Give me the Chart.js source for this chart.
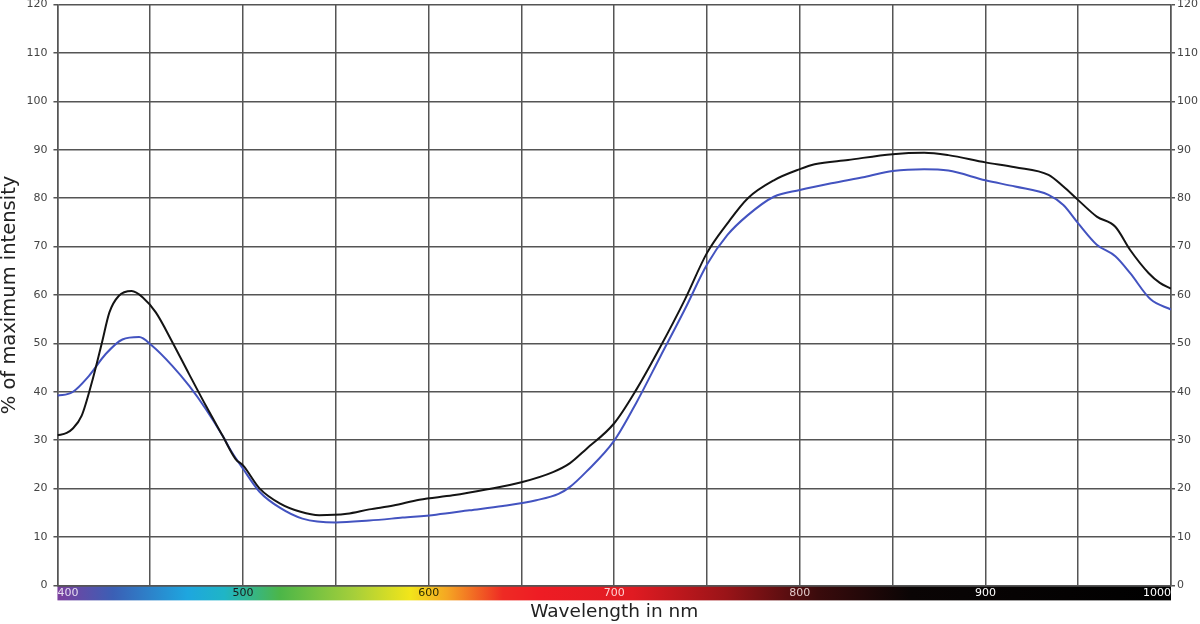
<!DOCTYPE html>
<html>
<head>
<meta charset="utf-8">
<script src="https://cdn.jsdelivr.net/npm/chart.js@4/dist/chart.umd.min.js"></script>
<style>
  html, body { margin: 0; padding: 0; background: #fff; overflow: hidden; }
  #wrap { width: 1200px; height: 630px; position: relative; top: -8px; }
</style>
</head>
<body>
<div id="wrap"><canvas id="chart"></canvas></div>
<script>
// wavelength (nm) and % of max intensity
const blackNm  = [400, 405, 408, 413, 419, 424, 428, 433, 440, 446, 453, 462, 471, 480, 489, 496, 500, 509, 520, 531, 541, 556, 568, 581, 595, 613, 631, 650, 667, 676, 685, 700, 712, 725, 738, 750, 761, 772, 786, 800, 808, 826, 850, 867, 880, 900, 916, 934, 942, 950, 960, 970, 978, 988, 994, 1000];
const blackPct = [31.0, 31.5, 32.3, 35.0, 42.6, 50.2, 56.4, 59.8, 60.8, 59.5, 56.4, 50.2, 43.6, 37.1, 30.9, 26.1, 24.8, 20.0, 16.9, 15.2, 14.5, 14.8, 15.7, 16.5, 17.7, 18.6, 19.8, 21.3, 23.4, 25.2, 28.2, 33.5, 40.5, 49.4, 59.0, 68.7, 74.8, 80.0, 83.7, 86.0, 87.0, 87.9, 89.1, 89.4, 88.9, 87.4, 86.4, 84.8, 82.4, 79.6, 76.2, 74.1, 69.3, 64.5, 62.5, 61.3];

const blueNm  = [400, 408, 417, 426, 435, 444, 451, 462, 471, 480, 489, 494, 500, 509, 520, 532, 550, 568, 586, 604, 622, 640, 658, 670, 676, 685, 700, 712, 725, 738, 750, 761, 772, 786, 800, 817, 835, 850, 867, 880, 900, 916, 934, 942, 950, 960, 970, 978, 989, 1000];
const bluePct = [39.2, 39.9, 43.3, 47.8, 50.8, 51.3, 49.5, 45.3, 41.2, 36.4, 30.9, 27.5, 24.1, 19.3, 16.0, 13.8, 13.0, 13.4, 14.0, 14.6, 15.5, 16.4, 17.6, 18.9, 20.3, 23.5, 29.9, 37.8, 47.4, 57.0, 66.3, 72.4, 76.5, 80.3, 81.7, 83.1, 84.4, 85.6, 86.0, 85.7, 83.7, 82.4, 80.7, 78.6, 74.8, 70.4, 68.0, 64.5, 59.1, 57.0];

const xLabels = [400, 500, 600, 700, 800, 900, 1000];
const xLabelColors = ['#e6dcf0', '#1a1a1a', '#2a2a00', '#ffd0d0', '#e0c8c8', '#ffffff', '#ffffff'];

// colour strip under the x axis
const spectrumNm  = [400, 430, 470, 490, 520, 560, 590, 610, 640, 660, 710, 760, 810, 860, 1000];
const spectrumCol = ['#7b3f9e', '#3b5fb5', '#1ea6df', '#1fb5c6', '#4cb648', '#a6cf3a', '#f2e51a', '#f5a623', '#ee2a24', '#ee1c24', '#e01b22', '#9a1418', '#3a0b0c', '#0a0505', '#000000'];

function toXY(xs, ys) {
  return xs.map((x, i) => ({ x: x, y: ys[i] }));
}

const spectrumBar = {
  id: 'spectrumBar',
  beforeDraw: function(chart) {
    const ctx = chart.ctx;
    const area = chart.chartArea;
    const sx = chart.scales.x;
    const x0 = sx.getPixelForValue(400);
    const x1 = sx.getPixelForValue(1000);
    const g = ctx.createLinearGradient(x0, 0, x1, 0);
    spectrumNm.forEach((nm, i) => {
      g.addColorStop((sx.getPixelForValue(nm) - x0) / (x1 - x0), spectrumCol[i]);
    });
    ctx.save();
    ctx.fillStyle = g;
    ctx.fillRect(x0, area.bottom, x1 - x0, 15);
    ctx.restore();
  }
};

const gridColor = '#555555';
const tickFont = { family: 'DejaVu Sans', size: 11 };

new Chart(document.getElementById('chart'), {
  type: 'line',
  data: {
    datasets: [{
      label: 'black',
      data: toXY(blackNm, blackPct),
      borderColor: '#141414',
      borderWidth: 2,
      pointRadius: 0,
      cubicInterpolationMode: 'monotone',
      fill: false
    }, {
      label: 'blue',
      data: toXY(blueNm, bluePct),
      borderColor: '#4353c0',
      borderWidth: 2,
      pointRadius: 0,
      cubicInterpolationMode: 'monotone',
      fill: false
    }]
  },
  options: {
    responsive: true,
    maintainAspectRatio: false,
    animation: false,
    layout: { padding: { left: -1, right: 0, top: 0, bottom: 0 } },
    plugins: {
      legend: { display: false },
      tooltip: { enabled: false }
    },
    scales: {
      x: {
        type: 'linear',
        min: 400,
        max: 1000,
        grid: { color: gridColor, lineWidth: 1.5, drawTicks: false },
        border: { color: gridColor, width: 1.5 },
        ticks: {
          stepSize: 50,
          autoSkip: false,
          maxRotation: 0,
          align: 'inner',
          padding: 1,
          font: tickFont,
          color: (c) => {
            const i = xLabels.indexOf(c.tick.value);
            return i >= 0 ? xLabelColors[i] : '#000';
          },
          callback: (v) => xLabels.indexOf(v) >= 0 ? String(v) : ''
        },
        title: {
          display: true,
          text: 'Wavelength in nm',
          color: '#222',
          font: { family: 'DejaVu Sans', size: 18.5, lineHeight: 1.05 },
          padding: { top: 2, bottom: 0 }
        }
      },
      y: {
        min: 0,
        max: 120,
        grid: { color: gridColor, lineWidth: 1.5, tickLength: 4 },
        border: { color: gridColor, width: 1.5 },
        ticks: { stepSize: 10, padding: 6, color: '#444', font: tickFont },
        title: {
          display: true,
          text: '% of maximum intensity',
          color: '#222',
          font: { family: 'DejaVu Sans', size: 19.5, lineHeight: 1.1 },
          padding: { top: 0, bottom: 0 }
        }
      },
      yRight: {
        position: 'right',
        min: 0,
        max: 120,
        grid: { display: true, drawOnChartArea: false, color: gridColor, lineWidth: 1.5, tickLength: 4 },
        border: { color: gridColor, width: 1.5 },
        ticks: { stepSize: 10, padding: 2, color: '#444', font: tickFont }
      }
    }
  },
  plugins: [spectrumBar]
});
</script>
</body>
</html>
